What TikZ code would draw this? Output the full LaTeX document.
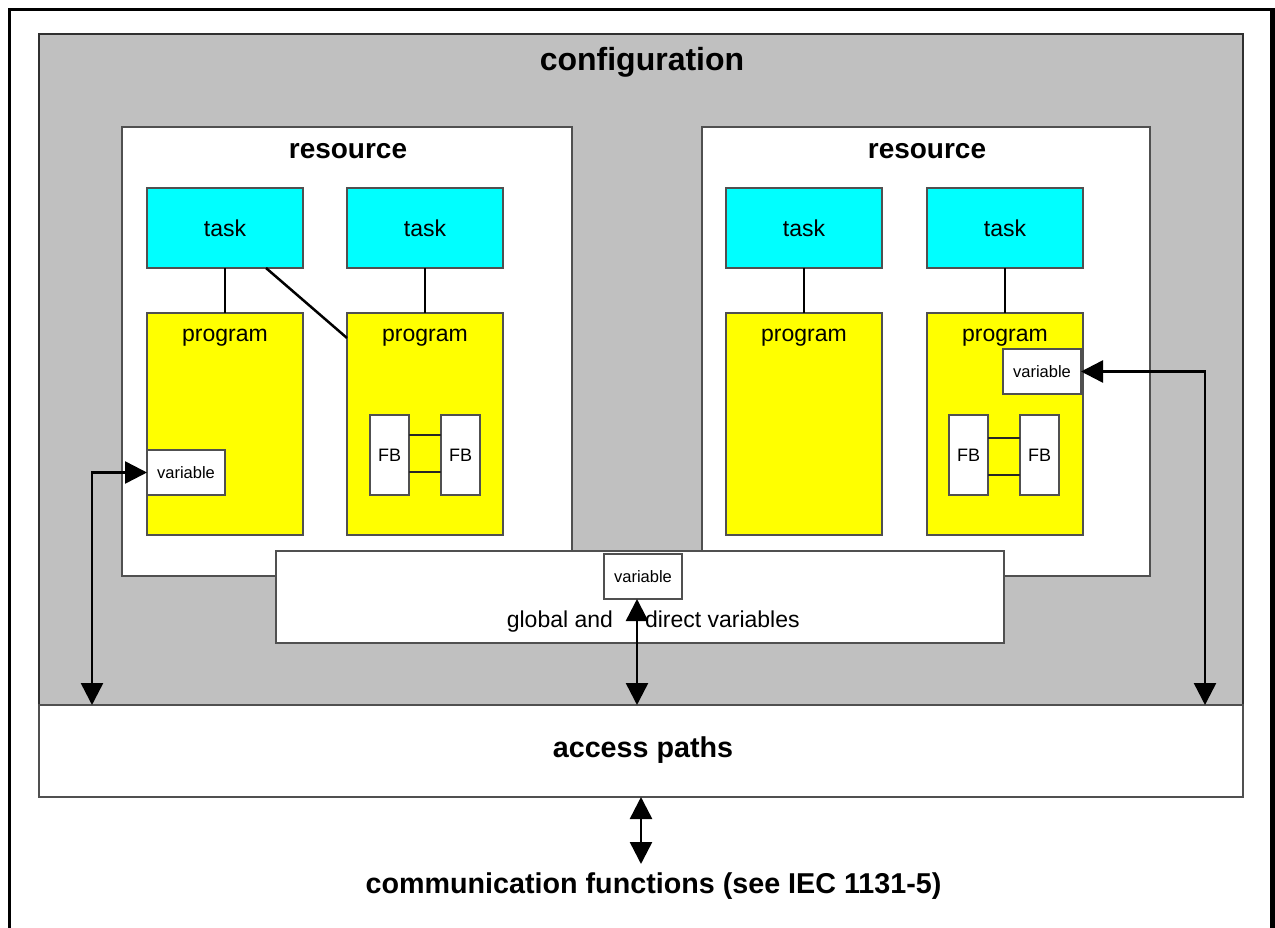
\documentclass[tikz,border=0pt]{standalone}
\usepackage{fontspec}
\setmainfont{Liberation Sans}
\usetikzlibrary{arrows.meta,calc}
\definecolor{cfggray}{HTML}{C0C0C0}
\definecolor{taskcyan}{HTML}{00FFFF}
\definecolor{progyellow}{HTML}{FFFF00}
\definecolor{edgegray}{HTML}{505050}
\definecolor{cfgedge}{HTML}{303030}

\begin{document}
\begin{tikzpicture}[x=1pt,y=-1pt,
  every node/.style={inner sep=0pt,outer sep=0pt},
  area/.style={draw=edgegray,line width=1.3pt,anchor=north west},
  cfgarea/.style={area,draw=cfgedge,fill=cfggray},
  whitearea/.style={area,fill=white},
  taskbox/.style={area,fill=taskcyan,minimum width=156pt,minimum height=80pt,
    font=\fontsize{23}{27}\selectfont},
  progbox/.style={area,fill=progyellow,minimum width=156pt,minimum height=222pt},
  varbox/.style={area,fill=white,minimum width=78pt,minimum height=45pt,
    font=\fontsize{16.5}{20}\selectfont},
  fbbox/.style={area,fill=white,minimum width=39pt,minimum height=80pt,
    font=\fontsize{18}{22}\selectfont},
  big/.style={font=\fontsize{32}{38}\selectfont\bfseries},
  head/.style={font=\fontsize{28}{34}\selectfont\bfseries},
  wide/.style={font=\fontsize{28.7}{34}\selectfont\bfseries},
  body/.style={font=\fontsize{23}{27}\selectfont},
  link/.style={line width=2.5pt,black},
  wire/.style={line width=1.2pt,black!85},
  dbl/.style={link,{Triangle[length=22pt,width=22pt]}-{Triangle[length=22pt,width=22pt]}},
  frame/.style={line width=2.6pt,black}
]
\useasboundingbox (0,0) rectangle (1275,928);

% outer frame (open at the bottom)
\draw[frame] (9.5,928) -- (9.5,9.5) -- (1271,9.5);
\draw[line width=5pt] (1272.5,8.2) -- (1272.5,928);

% configuration and access paths
\node[cfgarea,minimum width=1204pt,minimum height=671pt] (cfg) at (39,34) {};
\node[whitearea,minimum width=1204pt,minimum height=92pt] (access) at (39,705) {};
\node[big] (cfgt) at (642,62) {configuration};
\node[wide] (acct) at (643,750) {access paths};

% resources
\node[whitearea,minimum width=450pt,minimum height=449pt] (resL) at (122,127) {};
\node[whitearea,minimum width=448pt,minimum height=449pt] (resR) at (702,127) {};
\node[head] (resLt) at (348,151) {resource};
\node[head] (resRt) at (927,151) {resource};

% tasks
\node[taskbox] (taskL1) at (147,188) {task};
\node[taskbox] (taskL2) at (347,188) {task};
\node[taskbox] (taskR1) at (726,188) {task};
\node[taskbox] (taskR2) at (927,188) {task};

% programs
\node[progbox] (progL1) at (147,313) {};
\node[progbox] (progL2) at (347,313) {};
\node[progbox] (progR1) at (726,313) {};
\node[progbox] (progR2) at (927,313) {};
\node[body,anchor=base] (progL1t) at (225,341) {program};
\node[body,anchor=base] (progL2t) at (425,341) {program};
\node[body,anchor=base] (progR1t) at (804,341) {program};
\node[body,anchor=base] (progR2t) at (1005,341) {program};

% task to program associations
\draw[link] (taskL1.south) -- (progL1.north);
\draw[link] (taskL2.south) -- (progL2.north);
\draw[link] (taskR1.south) -- (progR1.north);
\draw[link] (taskR2.south) -- (progR2.north);
\draw[link] ($(taskL1.south)+(41,0)$) -- ($(progL2.north west)+(0,25)$);

% function blocks
\node[fbbox] (fbL1) at (370,415) {FB};
\node[fbbox] (fbL2) at (441,415) {FB};
\node[fbbox] (fbR1) at (949,415) {FB};
\node[fbbox] (fbR2) at (1020,415) {FB};
\draw[wire] ($(fbL1.north east)+(0,20)$) -- ($(fbL2.north west)+(0,20)$);
\draw[wire] ($(fbL1.north east)+(0,57)$) -- ($(fbL2.north west)+(0,57)$);
\draw[wire] ($(fbR1.north east)+(0,23)$) -- ($(fbR2.north west)+(0,23)$);
\draw[wire] ($(fbR1.north east)+(0,60)$) -- ($(fbR2.north west)+(0,60)$);

% global and direct variables
\node[whitearea,minimum width=728pt,minimum height=92pt] (glob) at (276,551) {};
\node[body,anchor=base east] (globt1) at (613,627) {global and};
\node[body,anchor=base west] (globt2) at (645,627) {direct variables};

% variables
\node[varbox] (varL) at (147,450) {variable};
\node[varbox] (varR) at (1003,349) {variable};
\node[varbox] (varG) at (604,554) {variable};

% access path connections
\coordinate (lx) at (92,0);
\coordinate (rx) at (1205,0);
\coordinate (gx) at (637,0);
\coordinate (cx) at (641,864);
\draw[dbl] (varL.west) -| (lx |- access.north);
\draw[dbl] (varR.east) -| (rx |- access.north);
\draw[dbl] (gx |- varG.south) -- (gx |- access.north);
\draw[dbl] (cx |- access.south) -- (cx);

% communication functions
\node[wide,anchor=base] (comm) at (653.5,893) {communication functions (see IEC 1131-5)};
\end{tikzpicture}
\end{document}
